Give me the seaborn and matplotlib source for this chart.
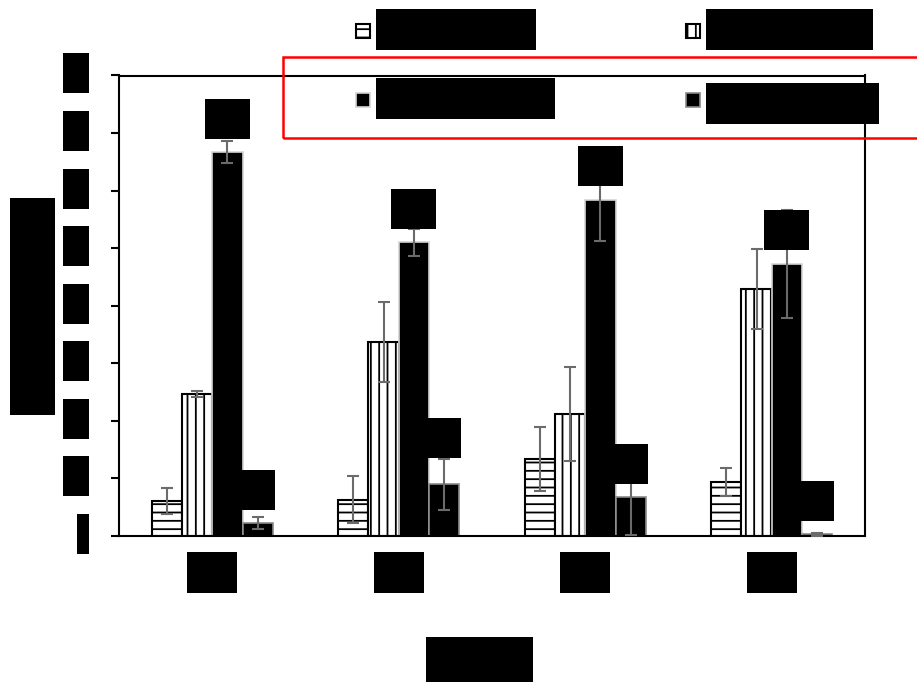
import matplotlib
matplotlib.use("Agg")
import matplotlib.pyplot as plt
from matplotlib.path import Path
from matplotlib.patches import Rectangle
import numpy as np
import pandas as pd
import seaborn as sns

# ---- data -------------------------------------------------------------
groups = ["D0", "D3", "D7", "D14"]
series = ["Control", "Treatment A", "Treatment B", "Treatment C"]

control_mean = [6.1, 6.3, 13.4, 9.4]
treat_a_mean = [24.7, 33.7, 21.2, 42.9]
treat_b_mean = [66.7, 51.0, 58.4, 47.3]
treat_c_mean = [2.3, 9.0, 6.7, 0.3]

control_sd = [2.3, 4.1, 5.6, 2.5]
treat_a_sd = [0.55, 6.9, 8.1, 7.0]
treat_b_sd = [1.9, 2.3, 7.1, 9.4]
treat_c_sd = [1.0, 4.4, 6.5, 0.3]

treat_b_marks = ["**", "**", "**", "**"]
treat_c_marks = ["*", "*", "*", "*"]

y_ticks = [0, 10, 20, 30, 40, 50, 60, 70, 80]
y_title = "Expression level"
x_title = "Time (d)"

means = [control_mean, treat_a_mean, treat_b_mean, treat_c_mean]
sds = [control_sd, treat_a_sd, treat_b_sd, treat_c_sd]

df = pd.DataFrame({
    "group": np.tile(groups, len(series)),
    "series": np.repeat(series, len(groups)),
    "value": np.concatenate(means),
})


class SolidBox:
    """Filled rectangle behind a text, sized in pixels."""

    def __init__(self, w=None, h=None, padx=0.0, pady=0.0, align="center", dy=0.0):
        self.w, self.h = w, h
        self.padx, self.pady = padx, pady
        self.align, self.dy = align, dy

    def __call__(self, x0, y0, width, height, mutation_size):
        bw = self.w if self.w is not None else width + 2 * self.padx
        bh = self.h if self.h is not None else height + 2 * self.pady
        if self.align == "left":
            left = x0 - self.padx
        elif self.align == "right":
            left = x0 + width + self.padx - bw
        else:
            left = x0 + (width - bw) / 2
        bottom = y0 + (height - bh) / 2 - self.dy
        return Path([(left, bottom), (left + bw, bottom), (left + bw, bottom + bh),
                     (left, bottom + bh), (left, bottom)], closed=True)


def solid(**kw):
    return dict(boxstyle=SolidBox(**kw), facecolor="black", edgecolor="none")


# ---- style ------------------------------------------------------------
sns.set_theme(style="ticks")
plt.rcParams["font.family"] = ["Liberation Sans", "DejaVu Sans"]
plt.rcParams["hatch.linewidth"] = 1.3
plt.rcParams["hatch.color"] = "black"

W, H = 917, 682
fig = plt.figure(figsize=(W / 100, H / 100), dpi=100)
fig.patch.set_facecolor("white")
ax = fig.add_axes([119 / W, 1 - 536 / H, 746 / W, 460.5 / H])

sns.barplot(data=df, x="group", y="value", hue="series", order=groups,
            hue_order=series, width=0.65, gap=0, errorbar=None,
            palette=["white", "white", "black", "black"], legend=False,
            saturation=1, ax=ax)

faces = ["white", "white", "black", "black"]
edges = ["black", "black", "#d4d4d4", "#8a8a8a"]
hatches = ["--", "||", None, None]
widths = [1.5, 1.5, 1.2, 1.2]
for cont, fc, ec, ht, lw in zip(ax.containers, faces, edges, hatches, widths):
    for p in cont:
        p.set_facecolor(fc)
        p.set_edgecolor(ec)
        p.set_linewidth(lw)
        p.set_hatch(ht)
        p.set_zorder(2)

# error bars at the centre of every bar
for cont, sd in zip(ax.containers, sds):
    xs = [p.get_x() + p.get_width() / 2 for p in cont]
    ys = [p.get_height() for p in cont]
    ax.errorbar(xs, ys, yerr=sd, fmt="none", ecolor="#6b6b6b",
                elinewidth=1.5, capsize=4.4, capthick=1.5, zorder=3)

# significance marks above the dark bars
mark_lift = {2: [33.5, 33.5, 34, 33.5], 3: [33, 46, 33, 33]}
mark_text = {2: treat_b_marks, 3: treat_c_marks}
mark_w = {2: 45, 3: 34}
for idx in (2, 3):
    for p, txt, lift in zip(ax.containers[idx], mark_text[idx], mark_lift[idx]):
        ax.annotate(txt, xy=(p.get_x() + p.get_width() / 2, p.get_height()),
                    xytext=(0, lift), textcoords="offset pixels",
                    ha="center", va="center", fontsize=18, color="black",
                    bbox=solid(w=mark_w[idx], h=40), zorder=6,
                    annotation_clip=False)

# axes, ticks and titles
ax.set_ylim(0, 80)
ax.set_xlim(-0.5, len(groups) - 0.5)
ax.set_yticks(y_ticks)
ax.set_yticklabels([str(v) for v in y_ticks])
for s in ax.spines.values():
    s.set_visible(True)
    s.set_color("black")
    s.set_linewidth(1.5)
ax.tick_params(axis="y", length=5.8, width=1.5, color="black", pad=15.1,
               labelsize=18, labelcolor="black")
ax.tick_params(axis="x", length=0, pad=18.7, labelsize=16, labelcolor="black")
for lab in ax.get_yticklabels():
    lab.set_bbox(solid(padx=-1, h=40, align="right", dy=-4.5))
for lab in ax.get_xticklabels():
    lab.set_bbox(solid(w=50, h=41))

ax.set_ylabel(y_title, fontsize=16, color="black", va="center")
ax.yaxis.set_label_coords((32.5 - 119) / 746, 0.5 - 0.75 / 460.5)
ax.yaxis.label.set_bbox(solid(w=217, h=45))
ax.set_xlabel(x_title, fontsize=16, color="black", va="center")
ax.xaxis.set_label_coords((479.5 - 119) / 746, -(661 - 536) / 460.5)
ax.xaxis.label.set_bbox(solid(w=107, h=48))

# legend: one key per entry, two rows by two columns
key_spots = [(356, 33, 160, 3.5), (686, 33, 167, 3.5),
             (356, 102, 179, 3.5), (686, 102, 173, -1.5)]
for cont, name, (kx, ky, bw, bdy) in zip(ax.containers, series, key_spots):
    leg = fig.legend([cont], [name], loc="center left",
                     bbox_to_anchor=(kx / W, 1 - ky / H), frameon=False,
                     borderpad=0, borderaxespad=0, fontsize=16,
                     handlelength=0.63, handleheight=0.59, handletextpad=0.27)
    for t in leg.get_texts():
        t.set_color("black")
        t.set_bbox(solid(w=bw, h=41, align="left", dy=-bdy))

# red frame around the second legend row
fig.add_artist(Rectangle((283 / W, 1 - 138 / H), (940 - 283) / W, 81 / H,
                         transform=fig.transFigure, fill=False,
                         edgecolor="#ff0000", linewidth=1.8, clip_on=False,
                         zorder=4))

fig.savefig("out.png", dpi=100, facecolor="white")
